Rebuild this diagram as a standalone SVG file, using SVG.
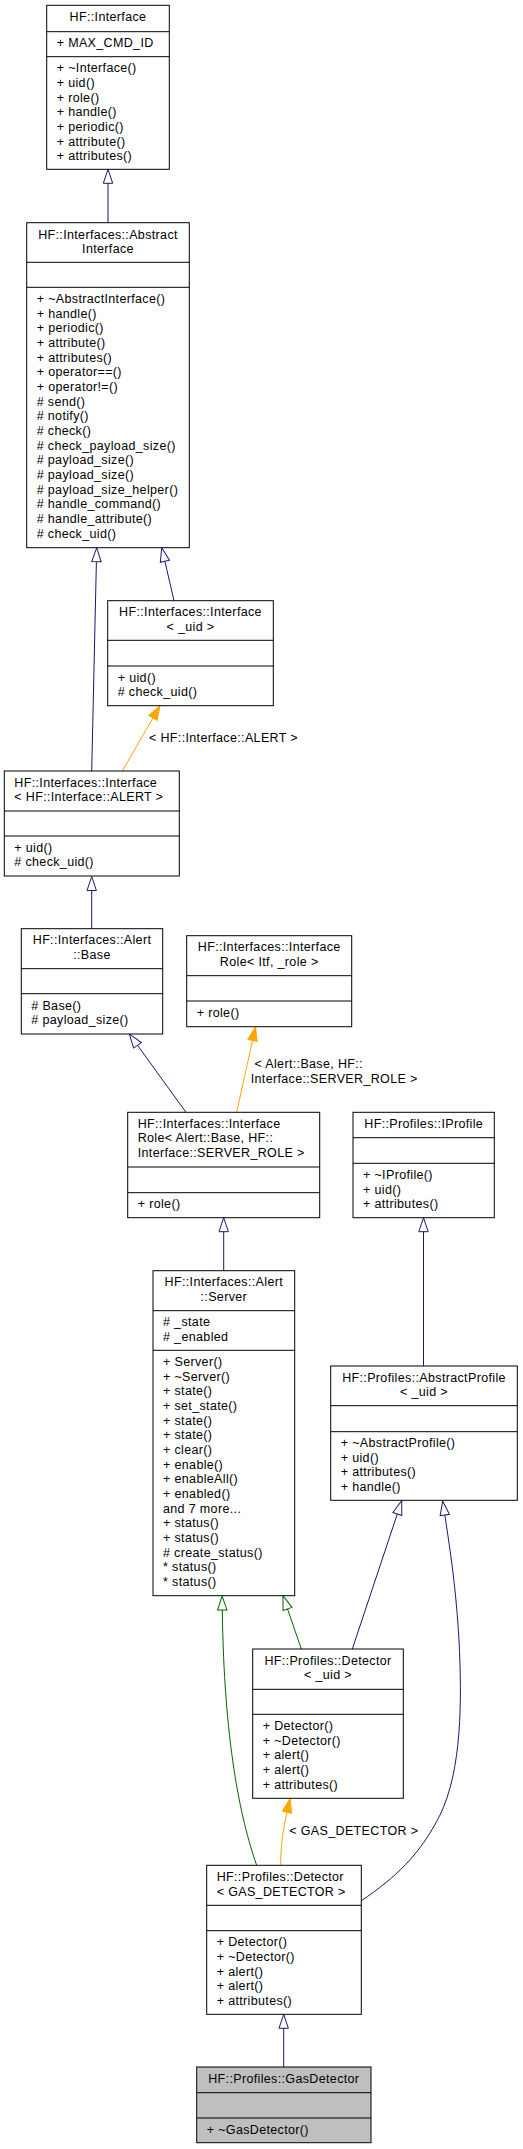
<svg xmlns="http://www.w3.org/2000/svg" width="523" height="2149" viewBox="0 0 523 2149">
<style>
text{font-family:"Liberation Sans",Arial,Helvetica,sans-serif;font-size:12.5px;letter-spacing:0.35px;fill:#000}
.c{text-anchor:middle}
.box{fill:#fff;stroke:#000;stroke-width:1}
.gray{fill:#bfbfbf}
.div{stroke:#000;stroke-width:1}
.e{fill:none;stroke-width:1}
.navy{stroke:#191970}
.green{stroke:#006400}
.orange{stroke:#ffa500}
</style>
<defs>
<marker id="hn" markerUnits="userSpaceOnUse" markerWidth="16" markerHeight="12" refX="0" refY="5" orient="auto" overflow="visible"><path d="M0,0.3 L14,5 L0,9.7 Z" fill="#fff" stroke="#191970" stroke-width="1"/></marker>
<marker id="hg" markerUnits="userSpaceOnUse" markerWidth="16" markerHeight="12" refX="0" refY="5" orient="auto" overflow="visible"><path d="M0,0.3 L14,5 L0,9.7 Z" fill="#fff" stroke="#006400" stroke-width="1"/></marker>
<marker id="fo" markerUnits="userSpaceOnUse" markerWidth="16" markerHeight="12" refX="0" refY="5" orient="auto" overflow="visible"><path d="M0,0.3 L14,5 L0,9.7 Z" fill="#ffa500" stroke="#ffa500" stroke-width="1"/></marker>
</defs>

<g id="connectors">
<path class="e navy" d="M108,222.7 L108,183.3" marker-end="url(#hn)"/>
<path class="e navy" d="M91.7,771 L96.4,561.7" marker-end="url(#hn)"/>
<path class="e navy" d="M174,600.7 L164.9,561.3" marker-end="url(#hn)"/>
<path class="e orange" d="M122.3,771 L153,717.8" marker-end="url(#fo)"/>
<path class="e navy" d="M91.7,928.7 L91.7,890.5" marker-end="url(#hn)"/>
<path class="e navy" d="M186,1112.3 L137.5,1045.3" marker-end="url(#hn)"/>
<path class="e orange" d="M236.7,1112.3 L252.5,1040.4" marker-end="url(#fo)"/>
<path class="e navy" d="M223.7,1270.7 L223.7,1231.7" marker-end="url(#hn)"/>
<path class="e navy" d="M423.5,1366 L423.5,1231.7" marker-end="url(#hn)"/>
<path class="e navy" d="M352.3,1649 L397.3,1514" marker-end="url(#hn)"/>
<path class="e green" d="M301.3,1649 L287.5,1608.9" marker-end="url(#hg)"/>
<path class="e green" d="M256.7,1865.3 C240,1818 224,1740 222.3,1610" marker-end="url(#hg)"/>
<path class="e orange" d="M280.7,1865.3 C280.7,1845 283,1830 287,1812.3" marker-end="url(#fo)"/>
<path class="e navy" d="M361.3,1900.7 C395,1878 420,1855 440,1815 C462,1770 462,1700 459,1640 C456,1590 451,1555 444.8,1515" marker-end="url(#hn)"/>
<path class="e navy" d="M283.7,2067 L283.7,2028.3" marker-end="url(#hn)"/>
<text x="149" y="741.5">&lt; HF::Interface::ALERT &gt;</text>
<text x="254.5" y="1068">&lt; Alert::Base, HF::</text>
<text x="250.7" y="1083">Interface::SERVER_ROLE &gt;</text>
<text x="289.3" y="1835">&lt; GAS_DETECTOR &gt;</text>
</g>

<g id="n1">
<rect class="box" x="46.7" y="5.3" width="122.6" height="164"/>
<line class="div" x1="46.7" y1="31.7" x2="169.3" y2="31.7"/>
<line class="div" x1="46.7" y1="56.7" x2="169.3" y2="56.7"/>
<text class="c" x="108" y="21">HF::Interface</text>
<text x="56.7" y="46.5">+ MAX_CMD_ID</text>
<text x="56.7" y="72.3">+ ~Interface()</text>
<text x="56.7" y="87">+ uid()</text>
<text x="56.7" y="101.6">+ role()</text>
<text x="56.7" y="116.3">+ handle()</text>
<text x="56.7" y="131">+ periodic()</text>
<text x="56.7" y="145.6">+ attribute()</text>
<text x="56.7" y="160.3">+ attributes()</text>
</g>

<g id="n2">
<rect class="box" x="26.7" y="222.7" width="162.6" height="325"/>
<line class="div" x1="26.7" y1="262.3" x2="189.3" y2="262.3"/>
<line class="div" x1="26.7" y1="287.3" x2="189.3" y2="287.3"/>
<text class="c" x="108" y="238.5">HF::Interfaces::Abstract</text>
<text class="c" x="108" y="253">Interface</text>
<text x="36.7" y="302.8">+ ~AbstractInterface()</text>
<text x="36.7" y="317.5">+ handle()</text>
<text x="36.7" y="332.1">+ periodic()</text>
<text x="36.7" y="346.8">+ attribute()</text>
<text x="36.7" y="361.5">+ attributes()</text>
<text x="36.7" y="376.2">+ operator==()</text>
<text x="36.7" y="390.8">+ operator!=()</text>
<text x="36.7" y="405.5"># send()</text>
<text x="36.7" y="420.2"># notify()</text>
<text x="36.7" y="434.8"># check()</text>
<text x="36.7" y="449.5"># check_payload_size()</text>
<text x="36.7" y="464.2"># payload_size()</text>
<text x="36.7" y="478.8"># payload_size()</text>
<text x="36.7" y="493.5"># payload_size_helper()</text>
<text x="36.7" y="508.2"># handle_command()</text>
<text x="36.7" y="522.8"># handle_attribute()</text>
<text x="36.7" y="537.5"># check_uid()</text>
</g>

<g id="n3">
<rect class="box" x="107.7" y="600.7" width="165.6" height="105"/>
<line class="div" x1="107.7" y1="640.3" x2="273.3" y2="640.3"/>
<line class="div" x1="107.7" y1="666" x2="273.3" y2="666"/>
<text class="c" x="190.5" y="616.3">HF::Interfaces::Interface</text>
<text class="c" x="190.5" y="631">&lt; _uid &gt;</text>
<text x="117.7" y="681.5">+ uid()</text>
<text x="117.7" y="696.2"># check_uid()</text>
</g>

<g id="n4">
<rect class="box" x="4.3" y="771" width="175" height="105"/>
<line class="div" x1="4.3" y1="811" x2="179.3" y2="811"/>
<line class="div" x1="4.3" y1="836" x2="179.3" y2="836"/>
<text x="14.3" y="786.5">HF::Interfaces::Interface</text>
<text x="14.3" y="801.2">&lt; HF::Interface::ALERT &gt;</text>
<text x="14.3" y="851.5">+ uid()</text>
<text x="14.3" y="866.2"># check_uid()</text>
</g>

<g id="n5">
<rect class="box" x="21.3" y="928.7" width="141.4" height="105.3"/>
<line class="div" x1="21.3" y1="968.7" x2="162.7" y2="968.7"/>
<line class="div" x1="21.3" y1="993.7" x2="162.7" y2="993.7"/>
<text class="c" x="92" y="944.3">HF::Interfaces::Alert</text>
<text class="c" x="92" y="959">::Base</text>
<text x="31.3" y="1009.5"># Base()</text>
<text x="31.3" y="1024.2"># payload_size()</text>
</g>

<g id="n6">
<rect class="box" x="186.7" y="935.7" width="165" height="91"/>
<line class="div" x1="186.7" y1="975.7" x2="351.7" y2="975.7"/>
<line class="div" x1="186.7" y1="1001" x2="351.7" y2="1001"/>
<text class="c" x="269.2" y="951.3">HF::Interfaces::Interface</text>
<text class="c" x="269.2" y="966">Role&lt; Itf, _role &gt;</text>
<text x="196.7" y="1016.5">+ role()</text>
</g>

<g id="n7">
<rect class="box" x="127.7" y="1112.3" width="192" height="105.4"/>
<line class="div" x1="127.7" y1="1167" x2="319.7" y2="1167"/>
<line class="div" x1="127.7" y1="1192.7" x2="319.7" y2="1192.7"/>
<text x="137.7" y="1127.7">HF::Interfaces::Interface</text>
<text x="137.7" y="1142.4">Role&lt; Alert::Base, HF::</text>
<text x="137.7" y="1157">Interface::SERVER_ROLE &gt;</text>
<text x="137.7" y="1208.3">+ role()</text>
</g>

<g id="n8">
<rect class="box" x="353" y="1112.3" width="141.3" height="105.4"/>
<line class="div" x1="353" y1="1137.7" x2="494.3" y2="1137.7"/>
<line class="div" x1="353" y1="1163.3" x2="494.3" y2="1163.3"/>
<text class="c" x="423.7" y="1127.7">HF::Profiles::IProfile</text>
<text x="363" y="1178.8">+ ~IProfile()</text>
<text x="363" y="1193.5">+ uid()</text>
<text x="363" y="1208.2">+ attributes()</text>
</g>

<g id="n9">
<rect class="box" x="153" y="1270.7" width="141.7" height="325"/>
<line class="div" x1="153" y1="1310.7" x2="294.7" y2="1310.7"/>
<line class="div" x1="153" y1="1350.3" x2="294.7" y2="1350.3"/>
<text class="c" x="223.8" y="1286.2">HF::Interfaces::Alert</text>
<text class="c" x="223.8" y="1300.9">::Server</text>
<text x="163" y="1326.3"># _state</text>
<text x="163" y="1341"># _enabled</text>
<text x="163" y="1366">+ Server()</text>
<text x="163" y="1380.7">+ ~Server()</text>
<text x="163" y="1395.3">+ state()</text>
<text x="163" y="1410">+ set_state()</text>
<text x="163" y="1424.7">+ state()</text>
<text x="163" y="1439.3">+ state()</text>
<text x="163" y="1454">+ clear()</text>
<text x="163" y="1468.7">+ enable()</text>
<text x="163" y="1483.4">+ enableAll()</text>
<text x="163" y="1498">+ enabled()</text>
<text x="163" y="1512.7">and 7 more...</text>
<text x="163" y="1527.4">+ status()</text>
<text x="163" y="1542">+ status()</text>
<text x="163" y="1556.7"># create_status()</text>
<text x="163" y="1571.4">* status()</text>
<text x="163" y="1586">* status()</text>
</g>

<g id="n10">
<rect class="box" x="330.7" y="1366" width="186.6" height="134.3"/>
<line class="div" x1="330.7" y1="1405.7" x2="517.3" y2="1405.7"/>
<line class="div" x1="330.7" y1="1431.7" x2="517.3" y2="1431.7"/>
<text class="c" x="424" y="1381.5">HF::Profiles::AbstractProfile</text>
<text class="c" x="424" y="1396.2">&lt; _uid &gt;</text>
<text x="340.7" y="1447">+ ~AbstractProfile()</text>
<text x="340.7" y="1461.7">+ uid()</text>
<text x="340.7" y="1476.3">+ attributes()</text>
<text x="340.7" y="1491">+ handle()</text>
</g>

<g id="n11">
<rect class="box" x="252.7" y="1649" width="150.6" height="149.3"/>
<line class="div" x1="252.7" y1="1689.3" x2="403.3" y2="1689.3"/>
<line class="div" x1="252.7" y1="1714.3" x2="403.3" y2="1714.3"/>
<text class="c" x="328" y="1664.5">HF::Profiles::Detector</text>
<text class="c" x="328" y="1679.2">&lt; _uid &gt;</text>
<text x="262.7" y="1730">+ Detector()</text>
<text x="262.7" y="1744.7">+ ~Detector()</text>
<text x="262.7" y="1759.3">+ alert()</text>
<text x="262.7" y="1774">+ alert()</text>
<text x="262.7" y="1788.7">+ attributes()</text>
</g>

<g id="n12">
<rect class="box" x="206.7" y="1865.3" width="154.6" height="149"/>
<line class="div" x1="206.7" y1="1905.3" x2="361.3" y2="1905.3"/>
<line class="div" x1="206.7" y1="1930.7" x2="361.3" y2="1930.7"/>
<text x="216.7" y="1880.8">HF::Profiles::Detector</text>
<text x="216.7" y="1895.5">&lt; GAS_DETECTOR &gt;</text>
<text x="216.7" y="1946.3">+ Detector()</text>
<text x="216.7" y="1961">+ ~Detector()</text>
<text x="216.7" y="1975.7">+ alert()</text>
<text x="216.7" y="1990.3">+ alert()</text>
<text x="216.7" y="2005">+ attributes()</text>
</g>

<g id="n13">
<rect class="box gray" x="196.7" y="2067" width="174.3" height="75.7"/>
<line class="div" x1="196.7" y1="2092.7" x2="371" y2="2092.7"/>
<line class="div" x1="196.7" y1="2118" x2="371" y2="2118"/>
<text class="c" x="283.8" y="2082.5">HF::Profiles::GasDetector</text>
<text x="206.7" y="2133.5">+ ~GasDetector()</text>
</g>
</svg>
